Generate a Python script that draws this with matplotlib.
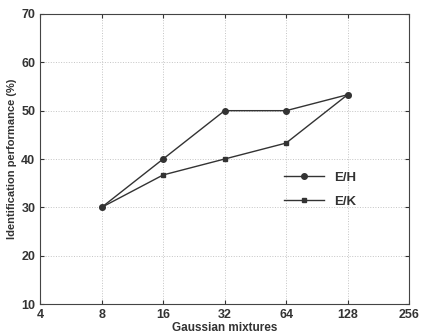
import matplotlib
matplotlib.use("Agg")
import matplotlib.pyplot as plt
from matplotlib.ticker import FixedLocator, FixedFormatter, NullLocator

# data
mixtures = [8, 16, 32, 64, 128]
eh = [30, 40, 50, 50, 53.3]
ek = [30, 36.7, 40, 43.3, 53.3]
xticks = [4, 8, 16, 32, 64, 128, 256]
yticks = [10, 20, 30, 40, 50, 60, 70]

plt.rcParams['font.family'] = ['Liberation Sans', 'DejaVu Sans']
plt.rcParams['font.weight'] = 'bold'
txt = '#333333'

fig = plt.figure(figsize=(4.27, 3.33), dpi=100)
ax = fig.add_axes([0.094, 0.087, 0.864, 0.871])

ax.plot(mixtures, eh, color='#333333', lw=1.0, marker='o', ms=4, label='E/H')
ax.plot(mixtures, ek, color='#333333', lw=1.0, marker='s', ms=3.5, label='E/K')

ax.set_xscale('log', base=2)
ax.set_xlim(4, 256)
ax.set_ylim(10, 70)
ax.xaxis.set_major_locator(FixedLocator(xticks))
ax.xaxis.set_major_formatter(FixedFormatter([str(v) for v in xticks]))
ax.xaxis.set_minor_locator(NullLocator())
ax.set_yticks(yticks)

ax.grid(True, linestyle=':', color='#c4c4c4', lw=0.7)
ax.tick_params(direction='in', length=3, labelsize=9, colors=txt, top=True, right=True)
for s in ax.spines.values():
    s.set_color('#444444')
    s.set_linewidth(0.8)

ax.set_xlabel('Gaussian mixtures', fontsize=8.5, fontweight='bold', color=txt, labelpad=1)
ax.set_ylabel('Identification performance (%)', fontsize=8, fontweight='bold', color=txt, labelpad=3)

leg = ax.legend(loc='center left', bbox_to_anchor=(0.63, 0.395), frameon=False,
                fontsize=9.5, handlelength=3, labelspacing=0.9, labelcolor=txt)

fig.savefig('out.png', dpi=100)
